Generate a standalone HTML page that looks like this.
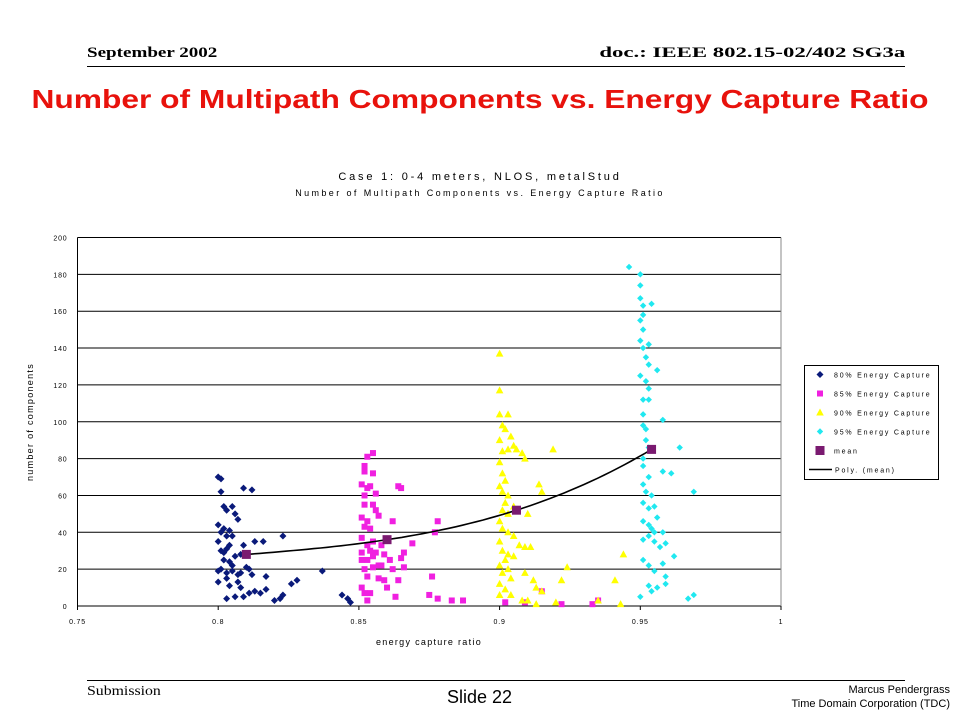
<!DOCTYPE html>
<html><head><meta charset="utf-8"><style>
body{margin:0;background:#fff;width:960px;height:720px;overflow:hidden;position:relative;font-family:"Liberation Sans",sans-serif}
.abs{position:absolute;white-space:nowrap}
</style></head><body>
<div class="abs" style="left:87px;top:45px;font:bold 15px 'Liberation Serif',serif;transform:scaleX(1.27);transform-origin:left top">September 2002</div>
<div class="abs" style="right:55px;top:45px;font:bold 15px 'Liberation Serif',serif;transform:scaleX(1.52);transform-origin:right top">doc.: IEEE 802.15-02/402 SG3a</div>
<div class="abs" style="left:87px;top:66px;width:818px;height:1px;background:#000"></div>
<div class="abs" style="left:480px;top:84px;font:bold 26px 'Liberation Sans',sans-serif;color:#e8120c;transform:translateX(-50%) scaleX(1.22);transform-origin:center top">Number of Multipath Components vs. Energy Capture Ratio</div>
<svg class="abs" style="left:0;top:0" width="960" height="720">
<g id="chart"></g>
</svg>
<div class="abs" style="left:87px;top:680px;width:818px;height:1px;background:#000"></div>
<div class="abs" style="left:87px;top:684px;font:14px 'Liberation Serif',serif;transform:scaleX(1.13);transform-origin:left top">Submission</div>
<div class="abs" style="left:447px;top:687px;font:18px 'Liberation Sans',sans-serif">Slide 22</div>
<div class="abs" style="right:10px;top:683px;font:11px 'Liberation Sans',sans-serif;text-align:right;line-height:14px">Marcus Pendergrass<br>Time Domain Corporation (TDC)</div>
<script>
const xTicks=[0.75,0.8,0.85,0.9,0.95,1];
const xTickLabels=["0.75","0.8","0.85","0.9","0.95","1"];
const yTicks=[0,20,40,60,80,100,120,140,160,180,200];
const s80=[[0.8,70],[0.801,69],[0.801,62],[0.809,64],[0.812,63],[0.802,54],[0.803,52],[0.805,54],[0.806,50],[0.807,47],[0.8,44],[0.801,40],[0.802,42],[0.803,38],[0.804,41],[0.805,38],[0.8,35],[0.801,30],[0.802,29],[0.803,31],[0.804,33],[0.806,27],[0.808,28],[0.809,33],[0.813,35],[0.816,35],[0.823,38],[0.802,25],[0.804,24],[0.805,22],[0.801,20],[0.8,19],[0.803,18],[0.805,19],[0.807,17],[0.808,18],[0.81,21],[0.811,20],[0.812,17],[0.817,16],[0.837,19],[0.8,13],[0.803,15],[0.804,11],[0.807,13],[0.808,10],[0.813,8],[0.815,7],[0.817,9],[0.826,12],[0.828,14],[0.803,4],[0.806,5],[0.809,5],[0.811,7],[0.82,3],[0.822,4],[0.823,6],[0.844,6],[0.846,4],[0.847,2]];
const s85=[[0.853,81],[0.855,83],[0.852,76],[0.852,73],[0.855,72],[0.851,66],[0.853,64],[0.854,65],[0.856,61],[0.864,65],[0.865,64],[0.852,60],[0.852,55],[0.855,55],[0.856,52],[0.857,49],[0.851,48],[0.853,46],[0.852,43],[0.854,42],[0.862,46],[0.878,46],[0.851,37],[0.855,35],[0.853,33],[0.858,33],[0.869,34],[0.851,29],[0.854,30],[0.856,29],[0.859,28],[0.866,29],[0.851,25],[0.853,25],[0.855,27],[0.857,22],[0.861,25],[0.865,26],[0.877,40],[0.852,20],[0.855,21],[0.858,22],[0.862,20],[0.866,21],[0.853,16],[0.857,15],[0.859,14],[0.86,10],[0.864,14],[0.876,16],[0.851,10],[0.852,7],[0.854,7],[0.863,5],[0.875,6],[0.878,4],[0.853,3],[0.883,3],[0.887,3],[0.902,2],[0.909,2],[0.915,8],[0.922,1],[0.933,1],[0.935,3]];
const s90=[[0.9,137],[0.9,117],[0.9,104],[0.903,104],[0.901,98],[0.902,96],[0.904,92],[0.905,87],[0.9,90],[0.901,84],[0.903,85],[0.906,85],[0.908,83],[0.909,80],[0.919,85],[0.9,78],[0.901,72],[0.902,68],[0.9,65],[0.901,62],[0.903,60],[0.902,56],[0.901,52],[0.903,50],[0.905,54],[0.914,66],[0.915,62],[0.91,50],[0.9,46],[0.901,42],[0.903,40],[0.905,38],[0.909,32],[0.911,32],[0.9,35],[0.901,30],[0.903,28],[0.902,25],[0.905,27],[0.907,33],[0.9,22],[0.901,18],[0.903,20],[0.904,15],[0.909,18],[0.912,14],[0.924,21],[0.913,10],[0.915,8],[0.922,14],[0.944,28],[0.941,14],[0.9,12],[0.902,9],[0.9,6],[0.904,6],[0.91,3],[0.913,1],[0.92,2],[0.935,3],[0.943,1],[0.908,3]];
const s95=[[0.946,184],[0.95,180],[0.95,174],[0.95,167],[0.951,163],[0.954,164],[0.951,158],[0.95,155],[0.951,150],[0.95,144],[0.951,140],[0.953,142],[0.952,135],[0.953,131],[0.956,128],[0.95,125],[0.952,122],[0.953,118],[0.951,112],[0.953,112],[0.951,104],[0.951,98],[0.952,96],[0.958,101],[0.952,90],[0.953,86],[0.951,80],[0.964,86],[0.951,76],[0.953,70],[0.958,73],[0.961,72],[0.951,66],[0.952,62],[0.954,60],[0.969,62],[0.951,56],[0.953,53],[0.955,54],[0.956,48],[0.951,46],[0.953,44],[0.954,42],[0.955,40],[0.958,40],[0.951,36],[0.953,38],[0.955,35],[0.957,32],[0.959,34],[0.962,27],[0.951,25],[0.953,22],[0.955,19],[0.958,23],[0.959,16],[0.953,11],[0.956,10],[0.959,12],[0.95,5],[0.954,8],[0.967,4],[0.969,6]];
const means=[[0.81,28],[0.86,36],[0.906,52],[0.954,85]];
const legendLabels=["80% Energy Capture","85% Energy Capture","90% Energy Capture","95% Energy Capture","mean","Poly. (mean)"];

const NS="http://www.w3.org/2000/svg";
const g=document.getElementById('chart');
const X0=77.5,X1=781,Y0=606,Y1=237.5;
const sx=v=>X0+(v-0.75)/0.25*(X1-X0);
const sy=v=>Y0-v/200*(Y0-Y1);
function mk(tag,attrs,parent){const e=document.createElementNS(NS,tag);for(const k in attrs)e.setAttribute(k,attrs[k]);(parent||g).appendChild(e);return e;}
function txt(x,y,s,size,anchor,extra){const t=mk('text',Object.assign({x:x,y:y,'font-size':size,'text-anchor':anchor||'start','font-family':'Liberation Sans, sans-serif'},extra||{}));t.textContent=s;return t;}

let t=txt(480,180,"Case 1: 0-4 meters, NLOS, metalStud",11,'middle',{'letter-spacing':'2.8'});


t=txt(480,196,"Number of Multipath Components vs. Energy Capture Ratio",9,'middle',{'letter-spacing':'2.4'});



yTicks.forEach(v=>{
  const l=mk('line',{x1:X0,x2:X1,y1:sy(v),y2:sy(v),stroke:'#000','stroke-width':1});
  
  
  const tl=txt(X0-10,sy(v)+3,String(v),7,'end',{'letter-spacing':'0.8'});
  
  
});
let ax=mk('line',{x1:X0,x2:X0,y1:Y1,y2:Y0,stroke:'#000'});


let rb=mk('line',{x1:X1,x2:X1,y1:Y1,y2:Y0,stroke:'#888'});


xTicks.forEach((v,i)=>{
  const tk=mk('line',{x1:sx(v),x2:sx(v),y1:Y0,y2:Y0+4,stroke:'#000'});
  
  
  const tl=txt(sx(v),Y0+18,xTickLabels[i],7,'middle',{'letter-spacing':'0.8'});
  
  
});
t=txt(429,645,"energy capture ratio",9,'middle',{'letter-spacing':'1.3'});


t=txt(0,0,"number of components",9,'middle',{'letter-spacing':'1.3',transform:'translate(33,422) rotate(-90)'});



function marker(kind,x,y,parent){
  let e;
  if(kind==='diamond')e=mk('polygon',{points:`${x},${y-3.5} ${x+3.5},${y} ${x},${y+3.5} ${x-3.5},${y}`,fill:'#0a1a7a'},parent);
  else if(kind==='square')e=mk('rect',{x:x-3,y:y-3,width:6,height:6,fill:'#f020e0'},parent);
  else if(kind==='tri')e=mk('polygon',{points:`${x},${y-4} ${x+3.8},${y+3} ${x-3.8},${y+3}`,fill:'#ffff00'},parent);
  else if(kind==='circle')e=mk('polygon',{points:`${x},${y-3.2} ${x+3.2},${y} ${x},${y+3.2} ${x-3.2},${y}`,fill:'#20e8f0'},parent);
  else e=mk('rect',{x:x-4.5,y:y-4.5,width:9,height:9,fill:'#7a1a70'},parent);
  return e;
}
const series=[[s80,'diamond','series-80'],[s85,'square','series-85'],[s90,'tri','series-90'],[s95,'circle','series-95']];
series.forEach(([data,kind,name])=>{
  const grp=mk('g',{});
  
  
  data.forEach(p=>{const m=marker(kind,sx(p[0]),sy(p[1]),grp);
    
    });
});
// polynomial (Lagrange) through means
(function(){
  const n=means.length;
  const f=x=>{let s=0;for(let i=0;i<n;i++){let l=1;for(let j=0;j<n;j++)if(j!==i)l*=(x-means[j][0])/(means[i][0]-means[j][0]);s+=l*means[i][1];}return s;};
  const x0=means[0][0],x1=means[n-1][0];let d='';
  for(let i=0;i<=60;i++){const x=x0+(x1-x0)*i/60;d+=(i?'L':'M')+sx(x).toFixed(1)+','+sy(f(x)).toFixed(1);}
  const p=mk('path',{d:d,fill:'none',stroke:'#000','stroke-width':1.6});
  
  
})();
means.forEach(p=>{const m=marker('mean',sx(p[0]),sy(p[1]));
  
  });

// legend
const lg=mk('g',{});


mk('rect',{x:804.5,y:365.5,width:134,height:114,fill:'#fff',stroke:'#000'},lg);
const kinds=['diamond','square','tri','circle','mean','line'];
legendLabels.forEach((lab,i)=>{
  const y=374.5+i*19;
  const eg=mk('g',{},lg);
  
  
  if(kinds[i]==='line')mk('line',{x1:809,x2:832,y1:y,y2:y,stroke:'#000','stroke-width':1.5},eg);
  else marker(kinds[i],820,y,eg);
  const tt=document.createElementNS(NS,'text');
  tt.setAttribute('x',kinds[i]==='line'?835:834);tt.setAttribute('y',y+3);
  tt.setAttribute('font-size','7');tt.setAttribute('letter-spacing','1.8');
  tt.setAttribute('font-family','Liberation Sans, sans-serif');
  tt.textContent=lab;eg.appendChild(tt);
});
</script>
</body></html>
